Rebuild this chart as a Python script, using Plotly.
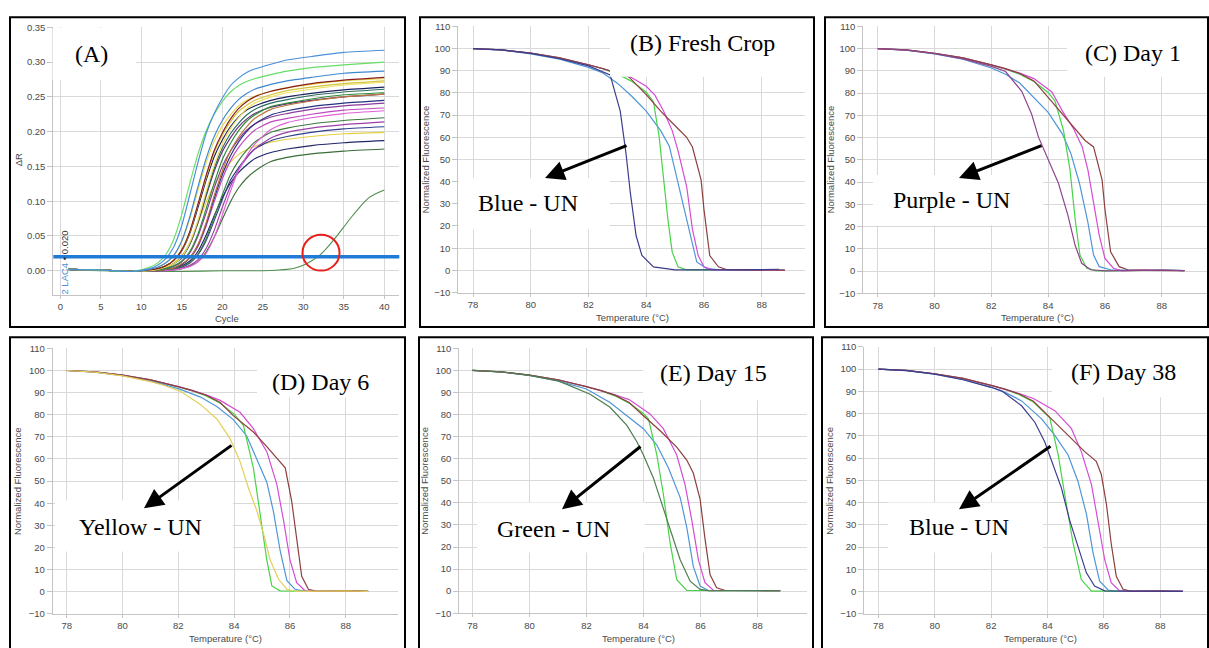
import plotly.graph_objects as go

W, H = 1209, 648

# ---------------- Panel A : amplification curves (Delta R vs cycle) ----------------
A_CYCLES = [1, 5, 9, 11, 12, 13, 14, 15, 16, 17, 18, 19, 20, 21, 22, 23, 24, 26, 28, 31, 35, 40]
A01 = [.002, .001, -.001, .003, .008, .017, .034, .065, .110, .156, .197, .226, .248, .266, .277, .285, .290, .297, .303, .308, .314, .317]
A02 = [.002, .001, -.001, .005, .011, .023, .045, .081, .126, .168, .201, .225, .243, .257, .266, .272, .276, .282, .287, .292, .296, .300]
A03 = [.002, .001, -.001, .002, .005, .011, .022, .043, .078, .121, .161, .193, .216, .233, .246, .255, .261, .268, .273, .278, .284, .287]
A04 = [.002, .001, -.001, .001, .003, .007, .015, .030, .057, .096, .137, .173, .198, .218, .233, .243, .250, .258, .263, .269, .274, .278]
A05 = [.002, .001, -.001, .002, .005, .011, .021, .042, .075, .116, .155, .186, .208, .224, .237, .245, .251, .258, .263, .268, .273, .276]
A06 = [.002, .001, -.001, .001, .003, .007, .015, .030, .056, .095, .134, .170, .195, .214, .229, .238, .245, .253, .259, .264, .269, .273]
A07 = [.002, .001, -.001, .000, .002, .005, .010, .020, .041, .073, .114, .152, .182, .204, .220, .233, .241, .250, .256, .261, .267, .271]
A08 = [.002, .001, -.001, .001, .003, .007, .015, .029, .054, .091, .130, .164, .188, .207, .221, .231, .237, .245, .250, .255, .260, .264]
A09 = [.002, .001, -.001, .000, .002, .004, .010, .020, .039, .071, .110, .147, .176, .197, .212, .224, .232, .241, .246, .252, .257, .261]
A10 = [.002, .001, -.001, .000, .001, .003, .007, .014, .028, .053, .089, .126, .160, .183, .201, .215, .224, .236, .241, .247, .253, .256]
A11 = [.002, .001, -.001, .000, .000, .002, .004, .010, .019, .038, .069, .108, .143, .172, .192, .207, .219, .232, .238, .244, .250, .254]
A12 = [.002, .001, -.001, .000, .002, .004, .010, .019, .038, .069, .107, .143, .171, .191, .207, .218, .226, .235, .240, .245, .250, .254]
A13 = [.002, .001, -.001, .000, .000, .002, .004, .009, .019, .037, .067, .104, .138, .165, .185, .200, .211, .224, .230, .236, .241, .245]
A14 = [.002, .001, -.001, .000, .001, .003, .006, .013, .026, .050, .083, .119, .150, .172, .189, .202, .211, .221, .226, .232, .237, .241]
A15 = [.002, .001, -.001, .000, .000, .002, .004, .009, .018, .035, .064, .099, .132, .158, .177, .191, .202, .214, .219, .225, .231, .234]
A16 = [.002, .001, -.001, .000, .000, .000, .001, .003, .006, .013, .025, .048, .080, .114, .144, .165, .182, .203, .213, .220, .226, .230]
A17 = [.002, .001, -.001, .000, .000, .001, .002, .006, .012, .024, .046, .077, .109, .138, .158, .173, .185, .199, .205, .211, .216, .220]
A18 = [.002, .001, -.001, .000, .000, .000, .002, .004, .008, .016, .032, .058, .091, .121, .145, .162, .175, .191, .199, .205, .210, .214]
A19 = [.002, .001, -.001, .000, .000, .001, .002, .005, .011, .023, .043, .072, .102, .130, .148, .163, .175, .187, .193, .199, .204, .207]
A20 = [.002, .001, -.001, .001, .002, .005, .011, .022, .041, .069, .098, .124, .142, .156, .167, .174, .179, .185, .189, .193, .197, .199]
A21 = [.002, .001, -.001, .000, .000, .001, .003, .007, .014, .028, .051, .079, .105, .126, .141, .152, .161, .170, .175, .180, .184, .187]
A22 = [.002, .001, -.001, .000, .000, .000, .001, .003, .007, .013, .027, .048, .074, .099, .119, .133, .143, .157, .163, .168, .172, .175]
A_COLORS = ["#4a90d9", "#66dd66", "#3f88d0", "#8b1c1c", "#e8d84a", "#d4c43a", "#f0e060",
            "#1c2060", "#2a6f5f", "#2e8b3a", "#b8783c", "#6a2a7a", "#283080", "#8c3c9c",
            "#c048c0", "#e060d8", "#3d7a3d", "#9c40a8", "#30408c", "#e4d040", "#202868", "#3a6e3a"]
A_LATE_CYCLES = [1, 5, 10, 15, 20, 25, 27, 28, 29, 30, 31, 32, 33, 34, 35, 36, 37, 38, 39, 40]
A_LATE = [.001, .000, -.001, -.001, .000, .000, .001, .002, .004, .008, .014, .022, .034, .048, .063, .078, .092, .104, .111, .116]
A_LATE_COLOR = "#4f8f4f"
A_THRESHOLD = 0.02
A_XTICKS = [0, 5, 10, 15, 20, 25, 30, 35, 40]
A_YTICKS = [0.0, 0.05, 0.10, 0.15, 0.20, 0.25, 0.30, 0.35]

# ---------------- Melt curves (Normalized fluorescence vs temperature) ----------------
MELT_XTICKS = [78, 80, 82, 84, 86, 88]
MELT_YTICKS = [-10, 0, 10, 20, 30, 40, 50, 60, 70, 80, 90, 100, 110]

# (B) Fresh crop
B_NAVY_T = [78, 79, 80, 81, 82, 82.4, 82.75, 83.1, 83.3, 83.45, 83.65, 83.85, 84.25, 85, 86, 87, 88, 88.6]
B_NAVY_F = [100, 99.4, 97.8, 95.4, 92.2, 90, 88.1, 71.8, 52.6, 34.9, 15.6, 6.7, 1.6, 0.2, 0.1, 0.2, 0.3, 0.5]
B_BLUE_T = [78, 79, 80, 81, 82, 82.5, 83, 83.5, 84, 84.5, 84.8, 85.06, 85.4, 85.75, 86.1, 86.5, 87, 88, 88.8]
B_BLUE_F = [100, 99.3, 97.6, 95.2, 91.5, 89, 84.4, 78.5, 71.8, 63, 56, 42, 23, 3.8, 0.8, 0.3, 0.2, 0.3, 0.1]
B_GREEN_T = [78, 79, 80, 81, 82, 82.5, 83, 83.5, 84, 84.25, 84.45, 84.6, 84.75, 84.9, 85.1, 85.4, 86, 87, 88, 88.8]
B_GREEN_F = [100, 99.4, 97.9, 95.8, 92.6, 90.8, 88.5, 85.2, 80.3, 76, 60, 42, 23, 8.2, 1.6, 0.2, 0.1, 0.2, 0.3, 0.1]
B_MAG_T = [78, 79, 80, 81, 82, 82.5, 83, 83.4, 84, 84.3, 84.6, 84.9, 85.1, 85.4, 85.6, 85.8, 86, 86.3, 87, 88, 88.8]
B_MAG_F = [100, 99.4, 97.9, 95.8, 92.7, 91, 89, 87.6, 83, 79, 71.8, 63, 54, 37.8, 18.6, 6.7, 1.6, 0.2, 0.2, 0.3, 0.1]
B_BROWN_T = [78, 79, 80, 81, 82, 82.5, 83, 83.4, 84, 84.5, 85, 85.4, 85.6, 85.9, 86, 86.2, 86.5, 86.8, 87.5, 88.8]
B_BROWN_F = [100, 99.4, 97.9, 95.8, 92.7, 91, 88.8, 87.2, 79.2, 71.8, 65.2, 60, 55.6, 40.8, 27.5, 6.7, 1.6, 0.3, 0.2, 0.1]

# (C) Day 1
C_PURPLE_T = [78, 79, 80, 81, 82, 82.5, 83.07, 83.42, 83.66, 84, 84.36, 84.7, 84.95, 85.18, 85.5, 86, 87, 88, 88.8]
C_PURPLE_F = [100, 99.3, 97.7, 95.4, 92, 89.7, 80.8, 70.5, 60.2, 49.9, 39.6, 24.9, 11.6, 3.5, 0.6, 0.1, 0.2, 0.5, 0.2]
C_BLUE_T = [78, 79, 80, 81, 82, 82.5, 83, 84, 84.5, 84.8, 85.1, 85.4, 85.6, 85.8, 86.2, 87, 88, 88.8]
C_BLUE_F = [100, 99.3, 97.6, 95.2, 91.3, 88.5, 84.5, 71.3, 61.7, 52.9, 39.6, 21.9, 7.2, 2, 0.6, 0.3, 0.5, 0.2]
C_GREEN_T = [78, 79, 80, 81, 82, 82.5, 83, 83.5, 84, 84.24, 84.54, 84.77, 84.95, 85.12, 85.36, 85.7, 87, 88, 88.8]
C_GREEN_F = [100, 99.4, 97.9, 95.8, 92.6, 90.8, 88.5, 85.2, 80.3, 76.4, 63.2, 45.5, 23.4, 7.2, 1.3, 0.1, 0.2, 0.5, 0.2]
C_MAG_T = [78, 79, 80, 81, 82, 82.5, 83, 83.5, 84.13, 84.5, 84.9, 85.2, 85.4, 85.6, 85.8, 86, 86.3, 86.6, 87.5, 88.8]
C_MAG_F = [100, 99.4, 97.9, 95.8, 92.7, 91, 89, 86.5, 80.5, 72, 63.9, 55.8, 45.5, 30.8, 16, 5.7, 1.3, 0.1, 0.4, 0.2]
C_BROWN_T = [78, 79, 80, 81, 82, 82.5, 83, 83.5, 84.06, 84.5, 85, 85.3, 85.6, 85.9, 86, 86.2, 86.5, 86.8, 87.5, 88.8]
C_BROWN_F = [100, 99.4, 97.9, 95.8, 92.7, 91, 88.8, 85.5, 77.2, 70.5, 63.2, 58.7, 55.8, 41, 27.8, 8.7, 2, 0.6, 0.3, 0.2]

# (D) Day 6
D_YELLOW_T = [78, 79, 80, 81, 81.5, 82.06, 82.78, 83.38, 83.85, 84.21, 84.51, 84.81, 85.05, 85.29, 85.59, 85.89, 86.24, 87, 88, 88.8]
D_YELLOW_F = [100, 99.3, 97.6, 95, 93.2, 90.7, 84.8, 78.1, 69.3, 58.9, 47, 36.7, 26.3, 14.4, 5.6, 1.1, 0.1, 0.2, 0.4, 0.1]
D_BLUE_T = [78, 79, 80, 81, 82, 82.78, 83.38, 83.97, 84.45, 84.81, 85.17, 85.41, 85.65, 85.89, 86.18, 86.5, 87.5, 88.8]
D_BLUE_F = [100, 99.3, 97.7, 95.3, 91.8, 88.1, 83.7, 77.8, 70.4, 59.9, 49.5, 36.1, 18.4, 5, 1.1, 0.3, 0.3, 0.1]
D_GREEN_T = [78, 79, 80, 81, 82, 82.5, 83, 83.5, 84, 84.33, 84.69, 84.93, 85.17, 85.35, 85.65, 87, 88, 88.8]
D_GREEN_F = [100, 99.4, 97.9, 95.8, 92.6, 90.8, 88.5, 85.2, 80.3, 75.2, 55.9, 35.2, 14.4, 2.6, 0.4, 0.2, 0.4, 0.1]
D_MAG_T = [78, 79, 80, 81, 82, 82.5, 83, 83.5, 84.21, 84.69, 85.17, 85.53, 85.77, 86, 86.24, 86.54, 87.5, 88.8]
D_MAG_F = [100, 99.4, 97.9, 95.8, 92.7, 91, 89, 86.5, 81.1, 73.7, 63.3, 48.5, 32.2, 14.4, 4.1, 0.4, 0.3, 0.1]
D_BROWN_T = [78, 79, 80, 81, 82, 82.5, 83, 83.5, 83.97, 84.69, 85.17, 85.53, 85.83, 86.06, 86.24, 86.42, 86.66, 86.96, 88, 88.8]
D_BROWN_F = [100, 99.4, 97.9, 95.8, 92.7, 91, 88.8, 85.5, 79.6, 72.2, 65.6, 60.4, 56, 41.1, 23.3, 7, 1.1, 0.2, 0.5, 0.1]

# (E) Day 15
E_DGREEN_T = [78, 79, 80, 81, 81.31, 82.13, 82.83, 83.42, 83.77, 84, 84.35, 84.7, 84.99, 85.29, 85.64, 85.99, 86.34, 87, 88, 88.8]
E_DGREEN_F = [100, 99.4, 97.8, 95.3, 93.7, 89.2, 83.3, 75.1, 67.7, 61.7, 51.3, 37.9, 26, 14.2, 4.5, 0.8, 0.1, 0.2, 0.3, 0.2]
E_BLUE_T = [78, 79, 80, 81, 82, 82.83, 83.42, 84, 84.47, 84.88, 85.29, 85.52, 85.75, 85.99, 86.28, 87, 88, 88.8]
E_BLUE_F = [100, 99.3, 97.7, 95.3, 91.6, 85.5, 79.5, 73.6, 66.2, 55.8, 42.4, 29, 11.2, 2.3, 0.3, 0.2, 0.3, 0.2]
E_GREEN_T = [78, 79, 80, 81, 82, 82.5, 83, 83.5, 84, 84.18, 84.47, 84.7, 84.94, 85.17, 85.52, 87, 88, 88.8]
E_GREEN_F = [100, 99.4, 97.9, 95.8, 92.6, 90.8, 88.5, 85.2, 80.5, 78, 61.7, 43.9, 21.6, 5.2, 0.3, 0.2, 0.3, 0.2]
E_MAG_T = [78, 79, 80, 81, 82, 82.5, 83, 83.5, 84.23, 84.7, 85.17, 85.46, 85.7, 85.93, 86.16, 86.46, 87.5, 88.8]
E_MAG_F = [100, 99.4, 97.9, 95.8, 92.7, 91, 89, 86.8, 80.3, 73.6, 61.7, 48.3, 32, 14.2, 3.8, 0.3, 0.2, 0.2]
E_BROWN_T = [78, 79, 80, 81, 82, 82.5, 83, 83.5, 84, 84.58, 85.17, 85.52, 85.75, 85.99, 86.16, 86.34, 86.57, 86.87, 88, 88.8]
E_BROWN_F = [100, 99.4, 97.9, 95.8, 92.7, 91, 88.8, 85.5, 79.5, 72.8, 65.3, 59.4, 53.5, 41.6, 23.8, 7.4, 1.5, 0.3, 0.3, 0.2]

# (F) Day 38
F_NAVY_T = [78, 79, 80, 81, 82, 82.37, 83.08, 83.55, 83.9, 84.14, 84.49, 84.79, 85.08, 85.38, 85.67, 86.03, 87, 88, 88.8]
F_NAVY_F = [100, 99.3, 97.7, 95.2, 91.8, 90.2, 83.5, 76.1, 67.3, 58.5, 46.7, 31.9, 20.2, 8.4, 2.5, 0.3, 0.2, 0.3, 0.1]
F_BLUE_T = [78, 79, 80, 81, 82, 82.5, 83.08, 83.79, 84.26, 84.73, 85.08, 85.38, 85.62, 85.85, 86.15, 86.38, 87.5, 88.8]
F_BLUE_F = [100, 99.3, 97.7, 95.3, 91.8, 89.5, 85.7, 77.6, 70.2, 61.4, 49.6, 34.9, 17.2, 4.7, 0.7, 0.1, 0.2, 0.1]
F_GREEN_T = [78, 79, 80, 81, 82, 82.5, 83, 83.5, 84.08, 84.38, 84.61, 84.91, 85.2, 85.56, 87, 88, 88.8]
F_GREEN_F = [100, 99.4, 97.9, 95.8, 92.6, 90.8, 88.5, 85.2, 78.1, 61.4, 43.7, 21.6, 5.4, 0.2, 0.2, 0.3, 0.1]
F_MAG_T = [78, 79, 80, 81, 82, 82.5, 83, 83.5, 84.26, 84.85, 85.2, 85.56, 85.79, 86.03, 86.26, 86.56, 87.5, 88.8]
F_MAG_F = [100, 99.4, 97.9, 95.8, 92.7, 91, 89, 86.8, 81.3, 73.2, 62.9, 48.1, 31.9, 14.3, 4, 0.3, 0.2, 0.2]
F_BROWN_T = [78, 79, 80, 81, 82, 82.5, 83, 83.5, 84.02, 84.73, 85.32, 85.73, 85.91, 86.09, 86.26, 86.44, 86.68, 86.97, 88, 88.8]
F_BROWN_F = [100, 99.4, 97.9, 95.8, 92.7, 91, 88.8, 85.5, 79.1, 70.2, 62.9, 58.5, 52.6, 39.3, 21.6, 6.9, 1, 0.1, 0.3, 0.1]

NAVY, BLUE, GREEN, MAG, BROWN = "#3d3d8f", "#4d96d8", "#46d346", "#d44cd4", "#8c3f3f"
PURPLE, YELLOW, DGREEN = "#8e448e", "#e2d05a", "#4e7e4e"

MELT_PANELS = [
    # axis id, curves [(T, F, color)]
    ("2", [(B_BLUE_T, B_BLUE_F, BLUE), (B_GREEN_T, B_GREEN_F, GREEN), (B_MAG_T, B_MAG_F, MAG),
           (B_BROWN_T, B_BROWN_F, BROWN), (B_NAVY_T, B_NAVY_F, NAVY)]),
    ("3", [(C_BLUE_T, C_BLUE_F, BLUE), (C_GREEN_T, C_GREEN_F, GREEN), (C_MAG_T, C_MAG_F, MAG),
           (C_BROWN_T, C_BROWN_F, BROWN), (C_PURPLE_T, C_PURPLE_F, PURPLE)]),
    ("4", [(D_BLUE_T, D_BLUE_F, BLUE), (D_GREEN_T, D_GREEN_F, GREEN), (D_MAG_T, D_MAG_F, MAG),
           (D_BROWN_T, D_BROWN_F, BROWN), (D_YELLOW_T, D_YELLOW_F, YELLOW)]),
    ("5", [(E_BLUE_T, E_BLUE_F, BLUE), (E_GREEN_T, E_GREEN_F, GREEN), (E_MAG_T, E_MAG_F, MAG),
           (E_BROWN_T, E_BROWN_F, BROWN), (E_DGREEN_T, E_DGREEN_F, DGREEN)]),
    ("6", [(F_BLUE_T, F_BLUE_F, BLUE), (F_GREEN_T, F_GREEN_F, GREEN), (F_MAG_T, F_MAG_F, MAG),
           (F_BROWN_T, F_BROWN_F, BROWN), (F_NAVY_T, F_NAVY_F, NAVY)]),
]

# ---------------- layout geometry (pixels) ----------------
def px(x):
    return x / W


def py(y):
    return 1 - y / H


GRID = "#d9d9d9"
AXL = "#c4c4c4"
TICKFONT = dict(family="Liberation Sans, Arial, sans-serif", size=9.5, color="#4a4a4a")

fig = go.Figure()

# Panel A traces
fig.add_trace(go.Scatter(x=A_LATE_CYCLES, y=A_LATE, mode="lines", xaxis="x", yaxis="y",
                         line=dict(color=A_LATE_COLOR, width=1.1, shape="spline", smoothing=0.6),
                         hoverinfo="skip"))
A_SERIES = [A22, A21, A20, A19, A18, A17, A16, A15, A14, A13, A12, A11, A10, A09, A08, A07, A06, A05, A04, A03, A02, A01]
A_SER_COLORS = list(reversed(A_COLORS))
for vals, col in zip(A_SERIES, A_SER_COLORS):
    fig.add_trace(go.Scatter(x=A_CYCLES, y=vals, mode="lines", xaxis="x", yaxis="y",
                             line=dict(color=col, width=1.15, shape="spline", smoothing=0.6),
                             hoverinfo="skip"))

# Melt traces
for ax_id, curves in MELT_PANELS:
    for T, F, col in curves:
        fig.add_trace(go.Scatter(x=T, y=F, mode="lines", xaxis="x" + ax_id, yaxis="y" + ax_id,
                                 line=dict(color=col, width=1.2), hoverinfo="skip"))

layout = dict(
    width=W, height=648, margin=dict(l=0, r=0, t=0, b=0),
    paper_bgcolor="white", plot_bgcolor="white", showlegend=False,
)


def axis_common():
    return dict(showgrid=True, gridcolor=GRID, gridwidth=1, zeroline=False,
                showline=True, linecolor=AXL, linewidth=1, ticks="outside",
                tickcolor=AXL, tickfont=TICKFONT, mirror=False)


# Panel A axes
xa = axis_common()
xa.update(domain=[px(53.3), px(399.3)], range=[-0.86, 41.85], anchor="y",
          tickvals=A_XTICKS, ticklen=3)
ya = axis_common()
ya.update(domain=[py(294), py(21.7)], range=[-0.0349, 0.35], anchor="x",
          tickvals=A_YTICKS, tickformat=".2f", ticklen=5)
layout["xaxis"] = xa
layout["yaxis"] = ya

MELT_GEOM = {
    # id: (x domain px, y domain px (bottom, top), x range)
    "2": ((458.3, 805), (291.5, 20.7), (77.49, 89.5)),
    "3": ((863.3, 1208), (292.3, 20.7), (77.49, 89.63)),
    "4": ((52.7, 398), (618.3, 348.3), (77.50, 89.87)),
    "5": ((459.3, 807), (617.7, 348.3), (77.54, 89.74)),
    "6": ((864.3, 1209), (618.3, 346.7), (77.50, 89.73)),
}
for ax_id, (xd, yd, xr) in MELT_GEOM.items():
    xx = axis_common()
    xx.update(domain=[px(xd[0]), px(xd[1])], range=list(xr), anchor="y" + ax_id,
              tickvals=MELT_XTICKS, ticklen=3)
    yy = axis_common()
    yy.update(domain=[py(yd[0]), py(yd[1])], range=[-10, 110], anchor="x" + ax_id,
              tickvals=MELT_YTICKS, ticklen=5)
    layout["xaxis" + ax_id] = xx
    layout["yaxis" + ax_id] = yy

# ---------------- shapes ----------------
shapes = []
WHITE_BOXES = [
    (52.5, 22.5, 136, 75),
    (610, 12.5, 813, 72), (458.5, 175, 610, 227),
    (1067, 12.5, 1209, 72), (873, 172, 1043, 223),
    (257, 338, 404, 398), (55, 503, 233, 555),
    (643, 338, 813, 401), (477, 505, 645, 556),
    (1052, 338, 1209, 398), (888, 505, 1043, 556),
]
for x0, y0, x1, y1 in WHITE_BOXES:
    shapes.append(dict(type="rect", xref="paper", yref="paper", x0=px(x0), x1=px(x1),
                       y0=py(y1), y1=py(y0), fillcolor="white", line=dict(width=0), layer="above"))

# threshold line & red circle in panel A
shapes.append(dict(type="line", xref="x domain", yref="y", x0=0, x1=1, y0=A_THRESHOLD, y1=A_THRESHOLD,
                   line=dict(color="#1f7bd6", width=3.5), layer="above"))
shapes.append(dict(type="circle", xref="x", yref="y", x0=29.9, x1=34.47, y0=0.0002, y1=0.0516,
                   line=dict(color="#e8201c", width=2), layer="above"))

PANEL_BOXES = [
    (10, 11.5, 405, 326.5), (420, 11.5, 814, 326.5), (825, 11.5, 1208, 326.5),
    (10, 337, 405, 660), (419, 337, 813, 660), (822, 337, 1208, 660),
]
for x0, y0, x1, y1 in PANEL_BOXES:
    shapes.append(dict(type="rect", xref="paper", yref="paper", x0=px(x0), x1=px(x1),
                       y0=py(y1), y1=py(y0), line=dict(color="black", width=2),
                       fillcolor="rgba(0,0,0,0)", layer="above"))
layout["shapes"] = shapes

# ---------------- annotations ----------------
ann = []
SERIF = dict(family="Liberation Serif, Times New Roman, serif", size=24, color="black")
LABELS = [
    ("(A)", 91, 49), ("(B) Fresh Crop", 702.5, 38), ("Blue - UN", 528, 200),
    ("(C) Day 1", 1133, 48), ("Purple - UN", 951.7, 197),
    ("(D) Day 6", 320, 383), ("Yellow - UN", 140, 530),
    ("(E) Day 15", 713.7, 373), ("Green - UN", 553.7, 531.7),
    ("(F) Day 38", 1123.7, 372.7), ("Blue - UN", 958.7, 530),
]
for t, x, y in LABELS:
    ann.append(dict(text=t, xref="paper", yref="paper", x=px(x), y=py(y), xanchor="center",
                    yanchor="middle", showarrow=False, font=SERIF))

ARROWS = [  # head (x, y), tail offset (ax, ay) in px
    (545, 175, 83, -33), (959, 175, 84, -33), (144, 511, 89, -64),
    (562, 512, 80, -64), (959, 512, 93, -64),
]
for x, y, ax, ay in ARROWS:
    ann.append(dict(text="", xref="paper", yref="paper", x=px(x), y=py(y), ax=ax, ay=ay,
                    showarrow=True, arrowhead=2, arrowsize=1.3, arrowwidth=3, arrowcolor="black",
                    standoff=0, startstandoff=0))

SANS = dict(family="Liberation Sans, Arial, sans-serif", size=9.5, color="#4a4a4a")
TITLES = [
    ("\u0394R", 18, 157, -90), ("Cycle", 227, 318, 0),
    ("Normalized Fluorescence", 425, 156, -90), ("Temperature (\u00b0C)", 632, 317, 0),
    ("Normalized Fluorescence", 830, 156, -90), ("Temperature (\u00b0C)", 1037.5, 317, 0),
    ("Normalized Fluorescence", 18.3, 483, -90), ("Temperature (\u00b0C)", 225, 643.5, 0),
    ("Normalized Fluorescence", 425, 483, -90), ("Temperature (\u00b0C)", 638, 643.5, 0),
    ("Normalized Fluorescence", 830, 483, -90), ("Temperature (\u00b0C)", 1040, 643.5, 0),
]
for t, x, y, ang in TITLES:
    ann.append(dict(text=t, xref="paper", yref="paper", x=px(x), y=py(y), xanchor="center",
                    yanchor="middle", showarrow=False, font=SANS, textangle=ang))

# threshold label
ann.append(dict(text='<span style="color:#4a90d9">2 LAC4</span> \u2022 0.020', xref="paper", yref="paper",
                x=px(65), y=py(261), xanchor="center", yanchor="middle", showarrow=False,
                textangle=-90, font=dict(family="Liberation Sans, Arial, sans-serif", size=9.5, color="#333")))
layout["annotations"] = ann

fig.update_layout(**layout)
fig.write_html("out.html")
